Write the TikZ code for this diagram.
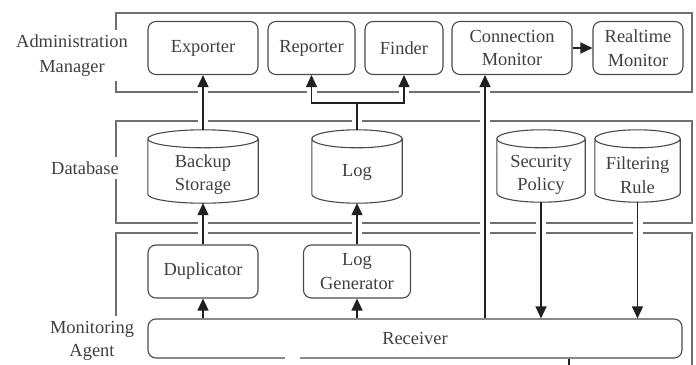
\documentclass[tikz,border=0pt]{standalone}
\usepackage{fontspec}
\setmainfont{Liberation Serif}
\usetikzlibrary{arrows.meta,calc}

\definecolor{txt}{HTML}{404040}
\definecolor{framec}{HTML}{707070}
\definecolor{boxc}{HTML}{4A4A4A}
\definecolor{linec}{HTML}{202020}

% cylinder outline drawn over a named (invisible) rectangle node
\newcommand\cylbody[1]{%
  \draw[draw=boxc, line width=1.1bp]
    let \p1=(#1.north west), \p2=(#1.south east), \n1={(\x2-\x1)/2} in
    ({\x1},{\y1-9bp}) -- ({\x1},{\y2+9bp})
    arc[start angle=180, end angle=360, x radius=\n1, y radius=9bp]
    -- ({\x2},{\y1-9bp})
    arc[start angle=0, end angle=360, x radius=\n1, y radius=9bp];}

\begin{document}
\begin{tikzpicture}[x=1bp, y=-1bp,
  every node/.style={font=\fontsize{18.5}{23.5}\selectfont, text=txt, align=center},
  frame/.style={draw=framec, line width=1.1bp},
  grouplabel/.style={fill=white, inner sep=5bp},
  unit/.style={draw=boxc, line width=1.1bp, rounded corners=8bp, fill=white,
               minimum height=53bp, inner sep=0pt},
  store/.style={inner sep=0pt, minimum height=73bp},
  conn/.style={draw=linec, line width=1.3bp, -{Triangle[length=12bp,width=11bp]},
               preaction={draw=white, line width=10bp, -, shorten <=2bp, shorten >=2bp}},
  linkplain/.style={draw=linec, line width=1.3bp,
               preaction={draw=white, line width=10bp, shorten <=2bp, shorten >=2bp}}
]
\useasboundingbox (0,0) rectangle (696,364);
\clip (0,0) rectangle (696,364);

% layer frames
\draw[frame] (116,13) rectangle (692,92);
\draw[frame] (116,121) rectangle (692,223);
\draw[frame] (116,385) |- (692,233) -- (692,385);

% layer names
\node[grouplabel, font=\fontsize{18.5}{25}\selectfont] (lblAdmin) at (72,55.5) {Administration\\Manager};
\node[grouplabel] (lblDb) at (85,168) {Database};
\node[grouplabel] (lblAgent) at (92,341) {Monitoring\\Agent};

% administration manager
\node[unit, minimum width=110bp] (exp) at (203,48) {Exporter};
\node[unit, minimum width=87bp] (rep) at (311.5,48) {Reporter};
\node[unit, minimum width=78bp] (fin) at (404,48) {Finder};
\node[unit, minimum width=120bp] (cm) at (512,48) {Connection\\Monitor};
\node[unit, minimum width=90bp] (rm) at (638,48) {Realtime\\Monitor};

% database
\node[store, minimum width=110bp] (bk) at (203,166.5) {};
\node[store, minimum width=90bp] (lg) at (357,166.5) {};
\node[store, minimum width=88bp, minimum height=72bp] (sp) at (541,166) {};
\node[store, minimum width=85bp, minimum height=72bp] (fr) at (637.5,166) {};
\cylbody{bk}\cylbody{lg}\cylbody{sp}\cylbody{fr}
\node (bkt) at ([yshift=-8bp]bk.center) {Backup\\Storage};
\node (lgt) at ([yshift=-6bp]lg.center) {Log};
\node (spt) at ([yshift=-9bp]sp.center) {Security\\Policy};
\node (frt) at ([yshift=-9bp]fr.center) {Filtering\\Rule};

% monitoring agent
\node[unit, minimum width=110bp] (dup) at (203,271.5) {Duplicator};
\node[unit, minimum width=107bp] (gen) at (357,271.5) {Log\\Generator};
\node[unit, minimum width=534bp, minimum height=39bp] (rcv) at (415,338.5) {Receiver};

\coordinate (cmx) at (485,0);
\coordinate (bus) at (357,103);
\coordinate (tail) at (569,375);

% connectors
\draw[conn] (rcv.north -| dup.south) -- (dup.south);
\draw[conn] (rcv.north -| gen.south) -- (gen.south);
\draw[conn] (dup.north) -- (bk.south);
\draw[conn] (gen.north) -- (lg.south);
\draw[conn] (bk.north) -- (exp.south);
\draw[conn] (lg.north) -- (bus) -| (rep.south);
\draw[conn] (bus) -| (fin.south);
\draw[conn] (rcv.north -| cmx) -- (cm.south -| cmx);
\draw[conn] (cm.east) -- (rm.west);
\draw[conn] (sp.south) -- (rcv.north -| sp.south);
\draw[conn] (fr.south) -- (rcv.north -| fr.south);
\draw[linkplain] (rcv.south -| tail) -- (tail);
\draw[white, line width=3bp] (285,358) -- (300,358);
\end{tikzpicture}
\end{document}
